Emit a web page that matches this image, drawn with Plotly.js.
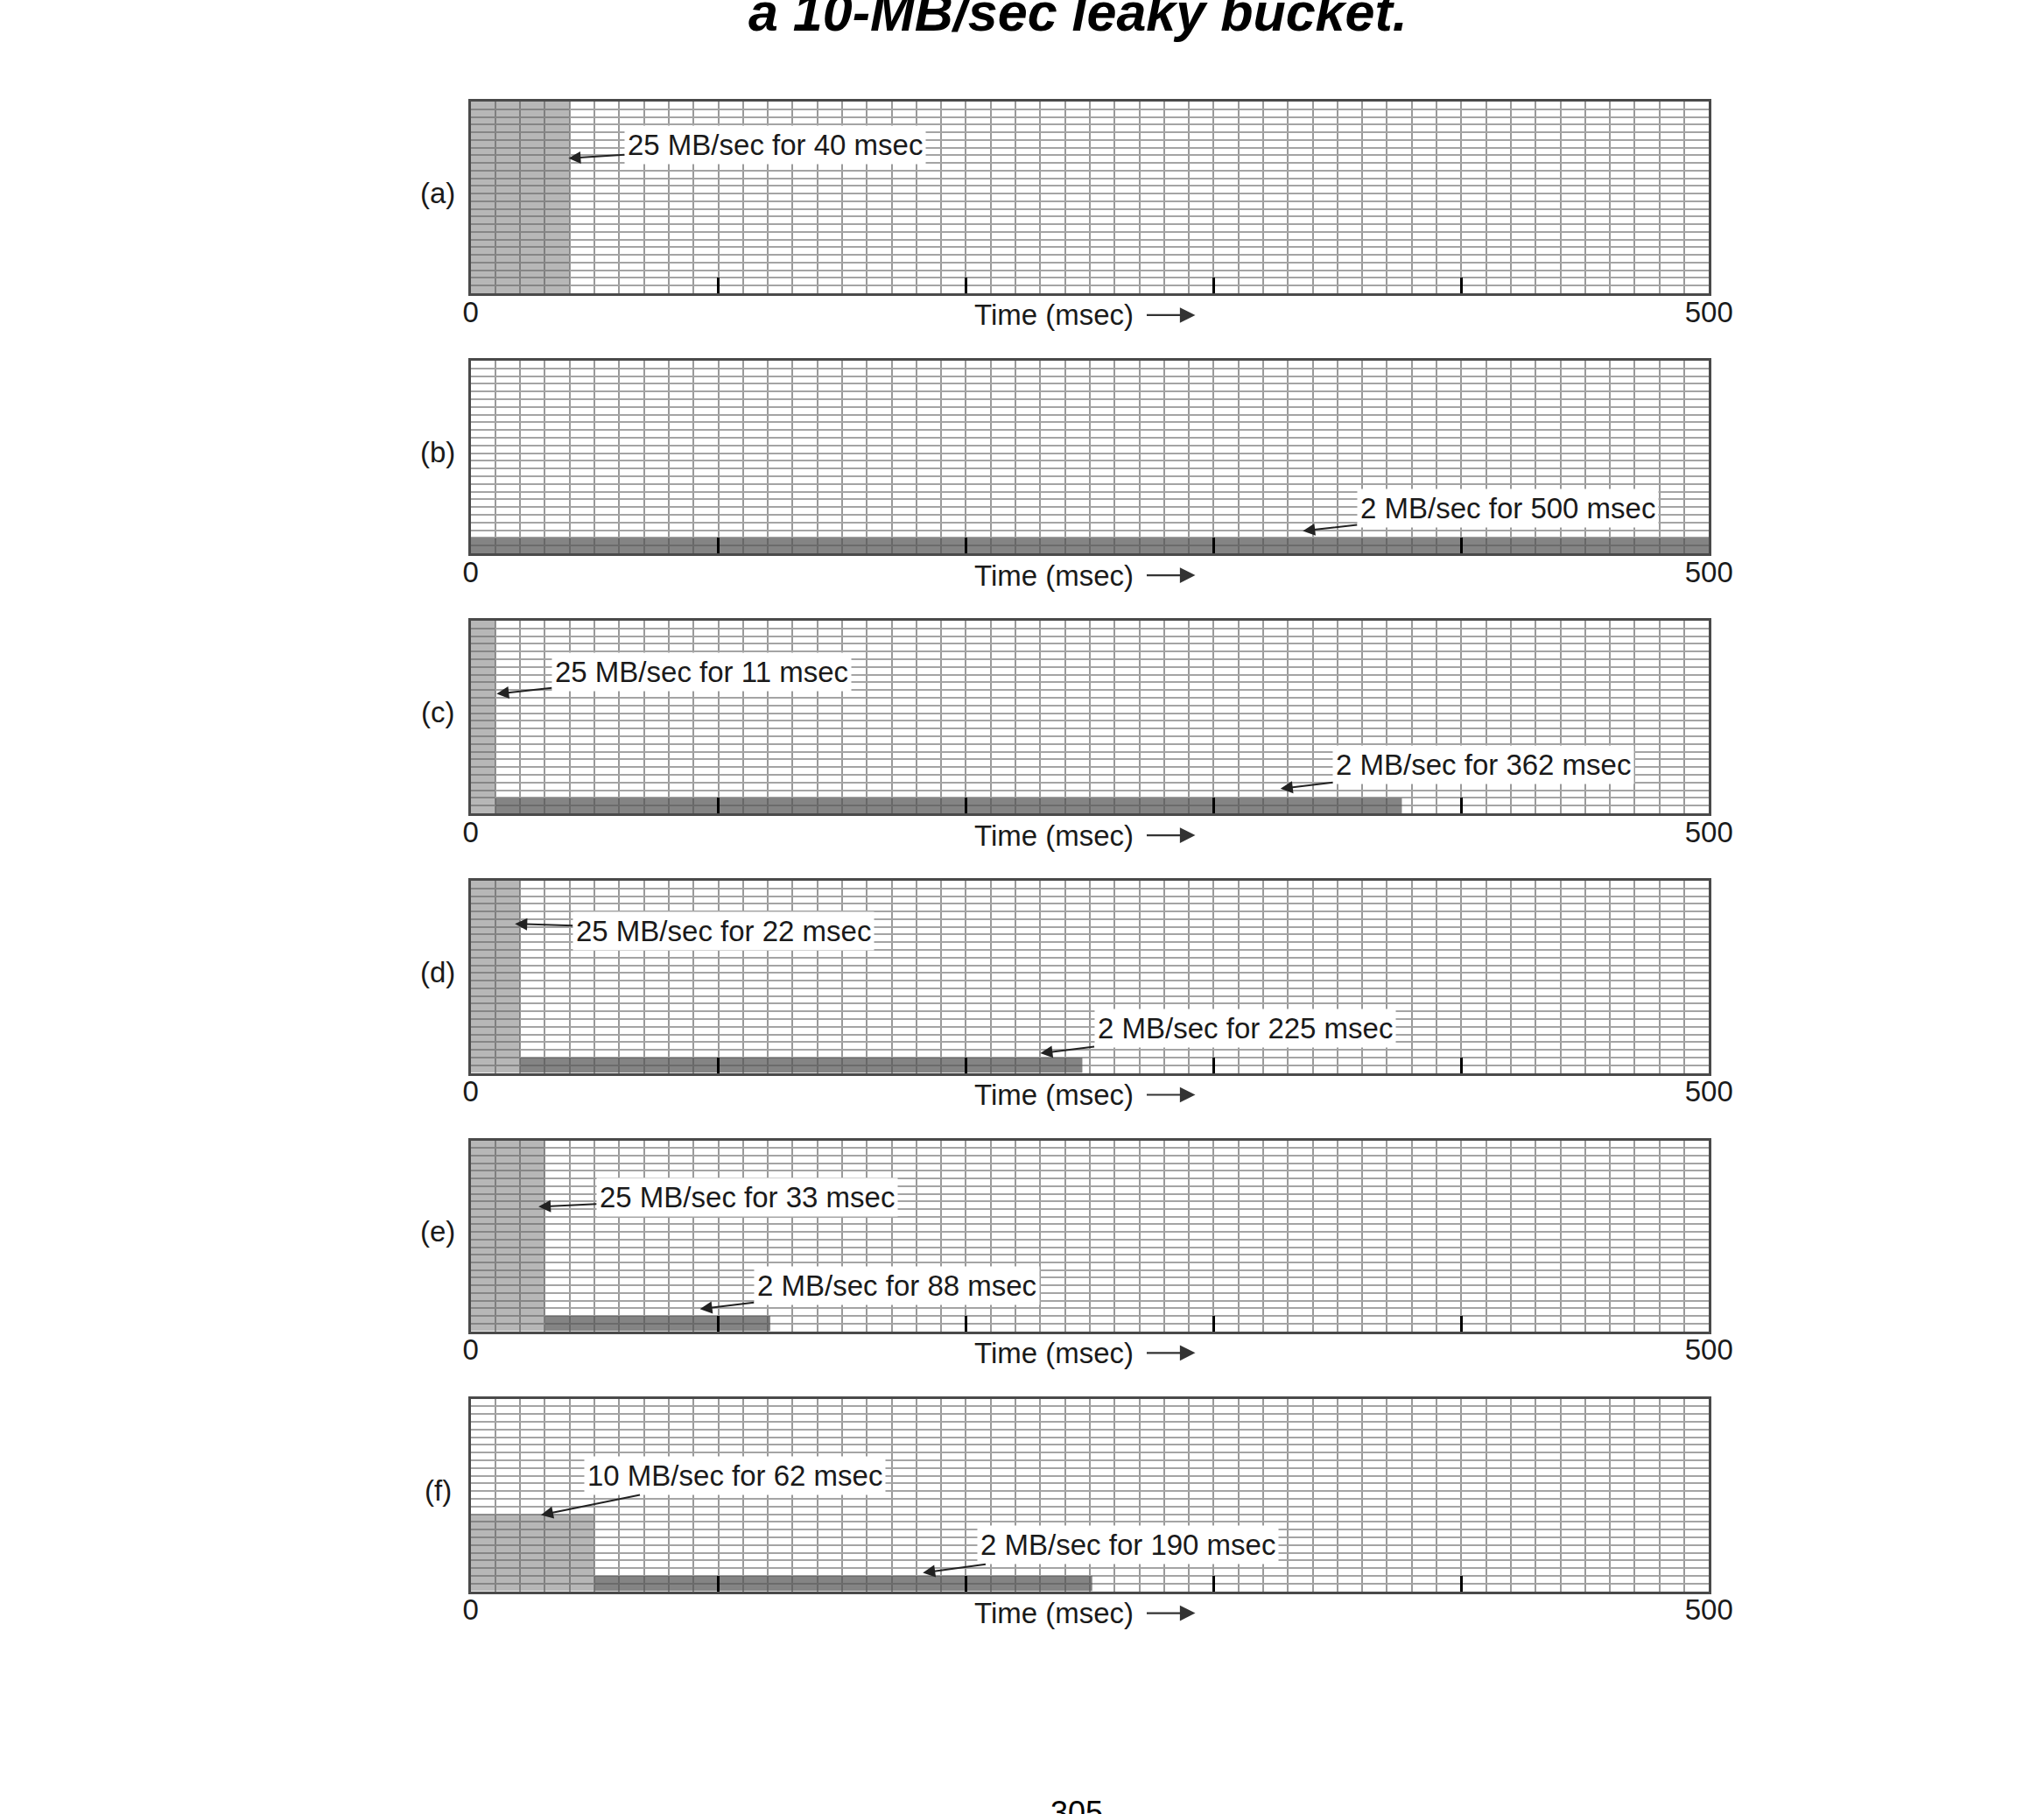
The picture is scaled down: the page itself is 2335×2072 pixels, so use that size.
<!DOCTYPE html>
<html>
<head>
<meta charset="utf-8">
<script src="https://cdn.plot.ly/plotly-3.0.1.min.js"></script>
<style>
  html, body { margin: 0; padding: 0; background: #fff; }
  #chart { width: 2335px; height: 2072px; }
</style>
</head>
<body>
<div id="chart"></div>
<script>
// ---------------- DATA ----------------
const panelLabels = ['(a)', '(b)', '(c)', '(d)', '(e)', '(f)'];
// first (burst) segment: rate in MB/sec, end time in msec (starts at 0)
const burstRate = [25, null, 25, 25, 25, 10];
const burstEnd  = [40, null, 10, 20, 30, 50];
// second (steady) segment: rate, start and end time in msec
const steadyRate  = [null, 2, 2, 2, 2, 2];
const steadyStart = [null, 0, 10, 20, 30, 50];
const steadyEnd   = [null, 500, 376, 247, 121, 251];
// annotation texts
const burstText  = ['25 MB/sec for 40 msec', '', '25 MB/sec for 11 msec', '25 MB/sec for 22 msec', '25 MB/sec for 33 msec', '10 MB/sec for 62 msec'];
const steadyText = ['', '2 MB/sec for 500 msec', '2 MB/sec for 362 msec', '2 MB/sec for 225 msec', '2 MB/sec for 88 msec', '2 MB/sec for 190 msec'];
// axis
const tickValues = [0, 100, 200, 300, 400, 500];
const tickLabels = ['0', '', '', '', '', '500'];
const axisTitle = 'Time (msec)';
const chartTitle = 'a 10-MB/sec leaky bucket.';
const pageNumber = '305';

// ---------------- LAYOUT CONFIG ----------------
const W = 2335, H = 2072;
const plotLeft = 537.6, plotRight = 1952.3;
const tops    = [116, 412, 709, 1006, 1302.5, 1597.5];
const bottoms = [335, 632, 929, 1225.5, 1520.5, 1817.5];
// label positions: [textX, textY, headX, headY] in data units
const burstPos = [
  [122.9, 19.3, 39.5, 17.6], null,
  [93.2, 18.4, 10.5, 15.5],
  [102, 18.5, 17.9, 19.4],
  [111.6, 17.6, 27.4, 16.3],
  [106.8, 15.0, 28.4, 9.9]
];
const steadyPos = [
  null,
  [418.7, 5.9, 336, 2.9],
  [408.9, 6.3, 327, 3.2],
  [312.6, 5.8, 230, 2.55],
  [172, 6.0, 92.6, 2.9],
  [265.5, 6.0, 182.6, 2.4]
];

const FONT = 'Liberation Sans, Arial, Helvetica, sans-serif';
const TXT = '#1a1a1a';
const GRID = '#9a9a9a';

const traces = [];
const layout = {
  width: W, height: H,
  margin: {l: 0, r: 0, t: 0, b: 0},
  paper_bgcolor: '#fff', plot_bgcolor: '#fff',
  showlegend: false,
  barmode: 'overlay',
  font: {family: FONT, size: 33, color: TXT},
  annotations: []
};

for (let i = 0; i < panelLabels.length; i++) {
  const n = i === 0 ? '' : String(i + 1);
  const xa = 'x' + n, ya = 'y' + n;
  layout['xaxis' + n] = {
    domain: [plotLeft / W, plotRight / W],
    anchor: ya,
    range: [0, 500],
    tickmode: 'array', tickvals: tickValues, ticktext: tickLabels,
    ticks: 'inside', ticklen: 18, tickwidth: 3, tickcolor: '#000',
    tickfont: {size: 33, color: TXT, family: FONT},
    ticklabelstandoff: -10,
    showgrid: true, gridcolor: GRID, gridwidth: 2,
    minor: {tick0: 0, dtick: 10, showgrid: true, gridcolor: GRID, gridwidth: 2, ticks: ''},
    showline: true, mirror: true, linecolor: '#4a4a4a', linewidth: 3,
    zeroline: false, fixedrange: true
  };
  layout['yaxis' + n] = {
    domain: [1 - bottoms[i] / H, 1 - tops[i] / H],
    anchor: xa,
    range: [0, 25],
    tickmode: 'linear', tick0: 0, dtick: 1,
    showticklabels: false, ticks: '',
    showgrid: true, gridcolor: '#a4a4a4', gridwidth: 2,
    showline: true, mirror: true, linecolor: '#4a4a4a', linewidth: 3,
    zeroline: false, fixedrange: true
  };

  // burst segment
  if (burstRate[i] !== null) {
    traces.push({
      type: 'bar', xaxis: xa, yaxis: ya,
      x: [burstEnd[i] / 2], y: [burstRate[i]], width: [burstEnd[i]],
      marker: {color: 'rgba(95,95,95,0.45)', line: {width: 0}},
      hoverinfo: 'skip'
    });
  }
  // steady segment
  if (steadyRate[i] !== null) {
    traces.push({
      type: 'bar', xaxis: xa, yaxis: ya,
      x: [(steadyStart[i] + steadyEnd[i]) / 2], y: [steadyRate[i]],
      width: [steadyEnd[i] - steadyStart[i]],
      marker: {color: 'rgba(85,85,85,0.72)', line: {width: 0}},
      hoverinfo: 'skip'
    });
  }

  // panel label
  layout.annotations.push({
    text: panelLabels[i], xref: 'paper', yref: ya + ' domain',
    x: 500 / W, y: 0.525, xanchor: 'center', yanchor: 'middle',
    showarrow: false, font: {size: 33, color: TXT, family: FONT}
  });
  // axis title
  layout.annotations.push({
    text: axisTitle, xref: xa, yref: ya + ' domain',
    x: 235.4, y: -0.114, xanchor: 'center', yanchor: 'middle',
    showarrow: false, font: {size: 33, color: TXT, family: FONT}
  });
  layout.annotations.push({
    text: '', xref: xa, yref: ya + ' domain',
    x: 292.6, y: -0.114, ax: -57, ay: 0,
    showarrow: true, arrowhead: 2, arrowsize: 1.6, arrowwidth: 2.2,
    arrowcolor: '#333'
  });

  // burst / steady labels
  const addLabel = (txt, p) => {
    if (!txt || !p) return;
    layout.annotations.push({
      text: txt, xref: xa, yref: ya,
      x: p[2], y: p[3], axref: xa, ayref: ya, ax: p[0], ay: p[1],
      showarrow: true, arrowhead: 2, arrowsize: 1.4, arrowwidth: 2,
      arrowcolor: '#222', bgcolor: '#fff', borderpad: 3,
      font: {size: 33, color: TXT, family: FONT}
    });
  };
  addLabel(burstText[i], burstPos[i]);
  addLabel(steadyText[i], steadyPos[i]);
}

// chart title (cut off at page top, as in the reference) and page number
layout.annotations.push({
  text: chartTitle, xref: 'paper', yref: 'paper',
  x: 1231 / W, y: 1 - 50 / H, xanchor: 'center', yanchor: 'bottom',
  showarrow: false,
  font: {size: 61, color: '#000', family: FONT, weight: 'bold', style: 'italic'}
});
layout.annotations.push({
  text: pageNumber, xref: 'paper', yref: 'paper',
  x: 1230 / W, y: 1 - 2048 / H, xanchor: 'center', yanchor: 'top',
  showarrow: false, font: {size: 36, color: '#000', family: FONT}
});

Plotly.newPlot('chart', traces, layout, {staticPlot: true, displayModeBar: false});
</script>
</body>
</html>
